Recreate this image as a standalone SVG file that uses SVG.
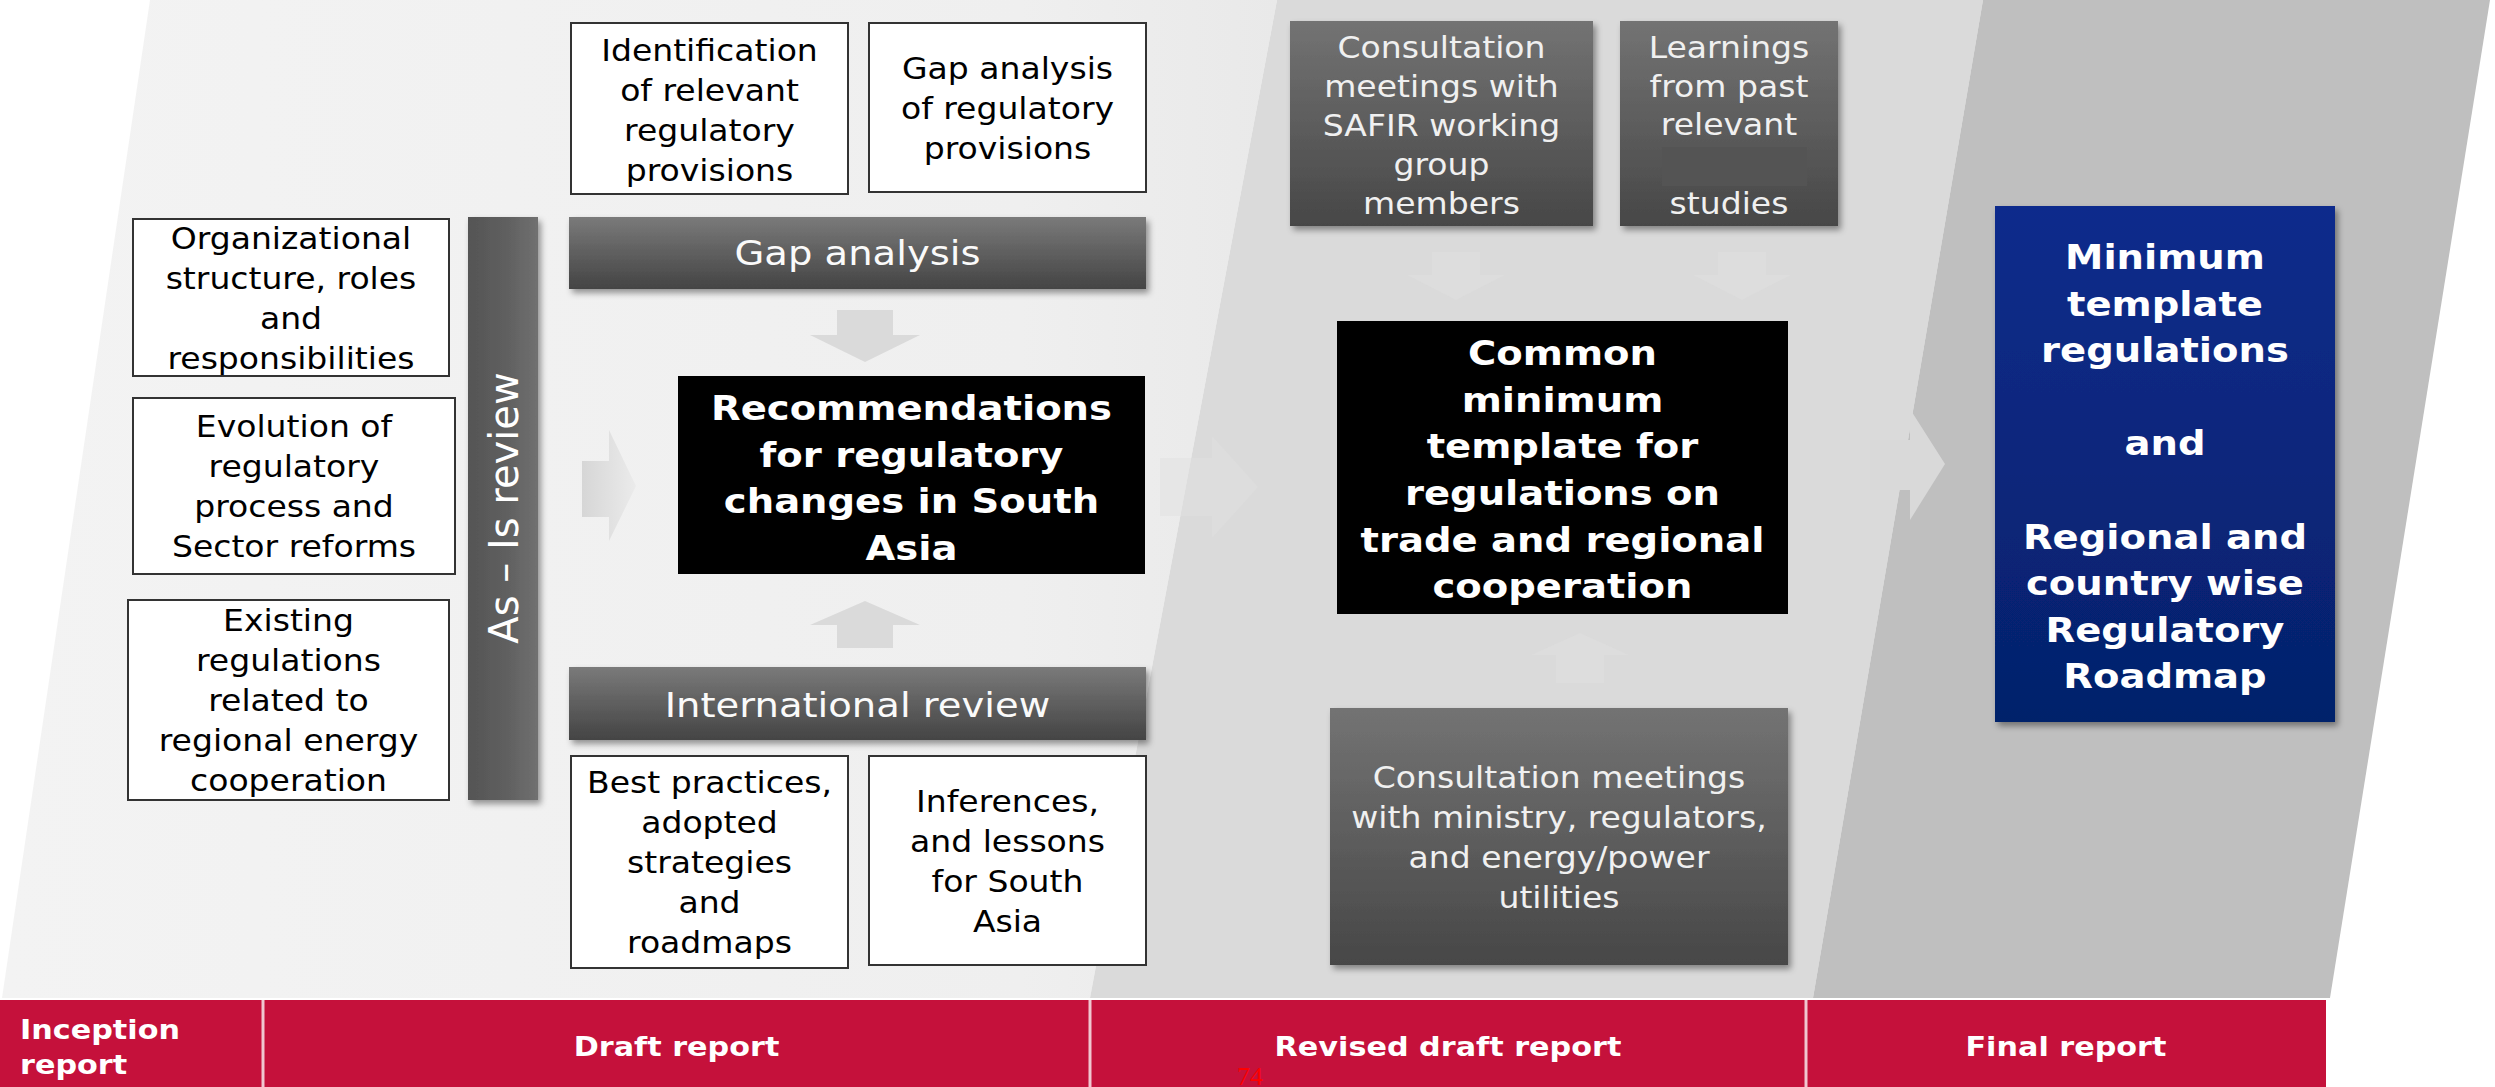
<svg xmlns="http://www.w3.org/2000/svg" width="2495" height="1087" viewBox="0 0 2495 1087">
<defs>
<linearGradient id="gDark" x1="0" y1="0" x2="0" y2="1"><stop offset="0" stop-color="#737373"/><stop offset="1" stop-color="#474747"/></linearGradient>
<linearGradient id="gBar" x1="0" y1="0" x2="0" y2="1"><stop offset="0" stop-color="#7a7a7a"/><stop offset="1" stop-color="#444"/></linearGradient>
<linearGradient id="gVert" x1="0" y1="0" x2="1" y2="0"><stop offset="0" stop-color="#555"/><stop offset="0.5" stop-color="#5e5e5e"/><stop offset="1" stop-color="#707070"/></linearGradient>
<linearGradient id="gBlue" x1="0" y1="0" x2="0" y2="1"><stop offset="0" stop-color="#0c2c8c"/><stop offset="1" stop-color="#05216b"/></linearGradient>
<linearGradient id="gR1" x1="0" y1="0" x2="1" y2="0"><stop offset="0" stop-color="#f3f3f3"/><stop offset="0.8" stop-color="#efefef"/><stop offset="1" stop-color="#e9e9e9"/></linearGradient>
<linearGradient id="gArrH" x1="0" y1="0" x2="1" y2="0"><stop offset="0" stop-color="#d6d6d6"/><stop offset="1" stop-color="#ebebeb"/></linearGradient>
<filter id="sh" x="-10%" y="-10%" width="130%" height="130%"><feDropShadow dx="3" dy="4" stdDeviation="3" flood-color="#000" flood-opacity="0.4"/></filter>
<style>
text{font-family:"DejaVu Sans",Verdana,"Liberation Sans",sans-serif;}
.sx{transform-box:fill-box;transform-origin:center;transform:scaleX(1.12);}
.sxl{transform-box:fill-box;transform-origin:left center;transform:scaleX(1.12);}
.reg{font-size:29.5px;fill:#000;text-anchor:middle;}
.wr{font-size:29.5px;fill:#f0f0f0;text-anchor:middle;}
.bar{font-size:34.4px;fill:#fafafa;text-anchor:middle;}
.bld{font-size:34.4px;font-weight:bold;fill:#fff;text-anchor:middle;}
.red{font-size:27px;font-weight:bold;fill:#fff;}
.wbox{fill:#fff;stroke:#333;stroke-width:2;}
.dbox{fill:url(#gDark);filter:url(#sh);}
.barbox{fill:url(#gBar);filter:url(#sh);}
.blk{fill:#000;}
.arr{fill:#dadada;}
.farr{fill:#e0e0e0;opacity:0.45;}
</style>
</defs>

<!-- background regions -->
<g id="background">
<rect x="0" y="0" width="2495" height="1087" fill="#fff"/>
<polygon points="150,0 1277,0 1090,998 2,998" fill="url(#gR1)"/>
<polygon points="1277,0 1983,0 1813,998 1090,998" fill="#dadada"/>
<polygon points="1983,0 2490,0 2330,998 1813,998" fill="#bfbfbf"/>
</g>

<!-- connectors (block arrows) -->
<g id="connectors">
<path d="M582,461 H609 V430 L636,486 L609,541 V517 H582 Z" fill="url(#gArrH)"/>
<path class="arr" d="M837,310 H893 V335 H920 L865,362 L810,335 H837 Z"/>
<path class="arr" d="M837,648 H893 V625 H920 L865,601 L810,625 H837 Z"/>
<path class="farr" d="M1160,458 H1212 V436 L1258,487 L1212,538 V516 H1160 Z"/>
<path class="farr" d="M1432,252 H1480 V275 H1505 L1456,300 L1407,275 H1432 Z"/>
<path class="farr" d="M1718,252 H1766 V275 H1791 L1742,300 L1693,275 H1718 Z"/>
<path class="farr" d="M1556,683 H1604 V655 H1629 L1580,633 L1531,655 H1556 Z"/>
<path d="M1870,440 H1910 V409 L1945,464 L1910,520 V490 H1870 Z" fill="#d9d9d9"/>
</g>

<!-- Draft report column -->
<g id="n-identification">
<rect class="wbox" x="571" y="23" width="277" height="171"/>
<text class="reg sx"><tspan x="709.5" y="61">Identification</tspan><tspan x="709.5" y="101">of relevant</tspan><tspan x="709.5" y="141">regulatory</tspan><tspan x="709.5" y="181">provisions</tspan></text>
</g>
<g id="n-gap-provisions">
<rect class="wbox" x="869" y="23" width="277" height="169"/>
<text class="reg sx"><tspan x="1007.5" y="79">Gap analysis</tspan><tspan x="1007.5" y="119">of regulatory</tspan><tspan x="1007.5" y="159">provisions</tspan></text>
</g>
<g id="n-gap-analysis">
<rect class="barbox" x="569" y="217" width="577" height="72"/>
<text class="bar sx" x="857.5" y="265">Gap analysis</text>
</g>
<g id="n-organizational">
<rect class="wbox" x="133" y="219" width="316" height="157"/>
<text class="reg sx"><tspan x="291" y="249">Organizational</tspan><tspan x="291" y="289">structure, roles</tspan><tspan x="291" y="329">and</tspan><tspan x="291" y="369">responsibilities</tspan></text>
</g>
<g id="n-evolution">
<rect class="wbox" x="133" y="398" width="322" height="176"/>
<text class="reg sx"><tspan x="294" y="437">Evolution of</tspan><tspan x="294" y="477">regulatory</tspan><tspan x="294" y="517">process and</tspan><tspan x="294" y="557">Sector reforms</tspan></text>
</g>
<g id="n-existing">
<rect class="wbox" x="128" y="600" width="321" height="200"/>
<text class="reg sx"><tspan x="288.5" y="631">Existing</tspan><tspan x="288.5" y="671">regulations</tspan><tspan x="288.5" y="711">related to</tspan><tspan x="288.5" y="751">regional energy</tspan><tspan x="288.5" y="791">cooperation</tspan></text>
</g>
<g id="n-asis">
<rect x="468" y="217" width="70" height="583" fill="url(#gVert)" filter="url(#sh)"/>
<text x="503" y="523" transform="rotate(-90 503 508)" style="font-size:40px;fill:#fff;text-anchor:middle;">As – Is review</text>
</g>
<g id="n-recommendations">
<rect class="blk" x="678" y="376" width="467" height="198"/>
<text class="bld sx"><tspan x="911.5" y="420">Recommendations</tspan><tspan x="911.5" y="466.7">for regulatory</tspan><tspan x="911.5" y="513.3">changes in South</tspan><tspan x="911.5" y="560">Asia</tspan></text>
</g>
<g id="n-international">
<rect class="barbox" x="569" y="667" width="577" height="73"/>
<text class="bar sx" x="857.5" y="717">International review</text>
</g>
<g id="n-best-practices">
<rect class="wbox" x="571" y="756" width="277" height="212"/>
<text class="reg sx"><tspan x="709.5" y="793">Best practices,</tspan><tspan x="709.5" y="833">adopted</tspan><tspan x="709.5" y="873">strategies</tspan><tspan x="709.5" y="913">and</tspan><tspan x="709.5" y="953">roadmaps</tspan></text>
</g>
<g id="n-inferences">
<rect class="wbox" x="869" y="756" width="277" height="209"/>
<text class="reg sx"><tspan x="1007.5" y="812">Inferences,</tspan><tspan x="1007.5" y="852">and lessons</tspan><tspan x="1007.5" y="892">for South</tspan><tspan x="1007.5" y="932">Asia</tspan></text>
</g>

<!-- Revised draft column -->
<g id="n-safir">
<rect class="dbox" x="1290" y="21" width="303" height="205"/>
<text class="wr sx"><tspan x="1441.5" y="58">Consultation</tspan><tspan x="1441.5" y="97">meetings with</tspan><tspan x="1441.5" y="136.5">SAFIR working</tspan><tspan x="1441.5" y="175">group</tspan><tspan x="1441.5" y="214">members</tspan></text>
</g>
<g id="n-learnings">
<rect class="dbox" x="1620" y="21" width="218" height="205"/>
<rect x="1662" y="147" width="145" height="39" fill="#545454"/>
<text class="wr sx"><tspan x="1729" y="58">Learnings</tspan><tspan x="1729" y="97">from past</tspan><tspan x="1729" y="135">relevant</tspan><tspan x="1729" y="214">studies</tspan></text>
</g>
<g id="n-common">
<rect class="blk" x="1337" y="321" width="451" height="293"/>
<text class="bld sx"><tspan x="1562.5" y="365">Common</tspan><tspan x="1562.5" y="411.7">minimum</tspan><tspan x="1562.5" y="458.3">template for</tspan><tspan x="1562.5" y="505">regulations on</tspan><tspan x="1562.5" y="551.7">trade and regional</tspan><tspan x="1562.5" y="598">cooperation</tspan></text>
</g>
<g id="n-ministry">
<rect class="dbox" x="1330" y="708" width="458" height="257"/>
<text class="wr sx"><tspan x="1559" y="788">Consultation meetings</tspan><tspan x="1559" y="828">with ministry, regulators,</tspan><tspan x="1559" y="868">and energy/power</tspan><tspan x="1559" y="908">utilities</tspan></text>
</g>

<!-- Final column -->
<g id="n-final-output">
<rect x="1995" y="206" width="340" height="516" fill="url(#gBlue)" filter="url(#sh)"/>
<text class="bld sx"><tspan x="2165" y="269">Minimum</tspan><tspan x="2165" y="315.6">template</tspan><tspan x="2165" y="362.2">regulations</tspan><tspan x="2165" y="455.4">and</tspan><tspan x="2165" y="548.6">Regional and</tspan><tspan x="2165" y="595.2">country wise</tspan><tspan x="2165" y="641.8">Regulatory</tspan><tspan x="2165" y="688.4">Roadmap</tspan></text>
</g>

<!-- Report timeline bar -->
<g id="timeline">
<rect x="0" y="1000" width="2326" height="87" fill="#c5113b"/>
<line x1="263" y1="1000" x2="263" y2="1087" stroke="#f0c6d0" stroke-width="3"/>
<line x1="1090" y1="1000" x2="1090" y2="1087" stroke="#f0c6d0" stroke-width="3"/>
<line x1="1806" y1="1000" x2="1806" y2="1087" stroke="#f0c6d0" stroke-width="3"/>
<text class="red sxl"><tspan x="20" y="1039">Inception</tspan><tspan x="20" y="1074">report</tspan></text>
<text class="red sx" x="676.5" y="1056" text-anchor="middle">Draft report</text>
<text class="red sx" x="1448" y="1056" text-anchor="middle">Revised draft report</text>
<text class="red sx" x="2066" y="1056" text-anchor="middle">Final report</text>
<text x="1250" y="1085" style="font-family:'Liberation Serif',serif;font-size:26px;fill:#ff0000;text-anchor:middle;">74</text>
</g>
</svg>
